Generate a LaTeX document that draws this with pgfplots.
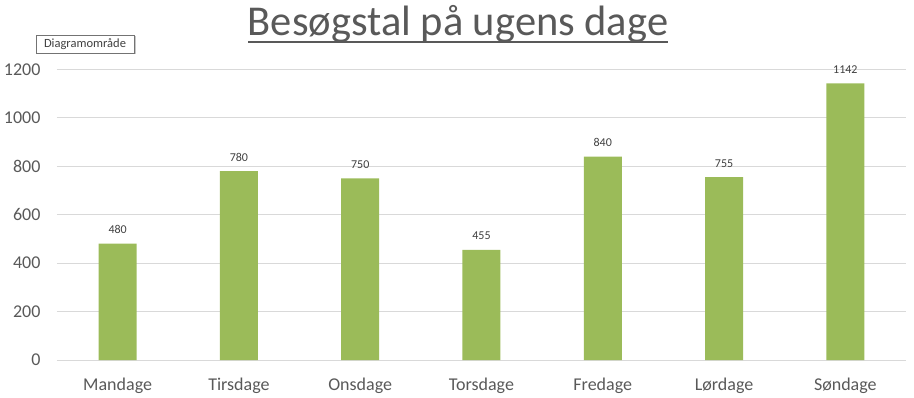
\documentclass[border=0pt]{standalone}
\usepackage{pgfplots}
\pgfplotsset{compat=1.18}
\usepackage{fontspec}
\setmainfont{Carlito}
\definecolor{bargreen}{HTML}{9BBB59}
\definecolor{txtgray}{HTML}{595959}
\definecolor{gridgray}{HTML}{D9D9D9}
\definecolor{lblgray}{HTML}{404040}
\begin{document}
\begin{tikzpicture}
\useasboundingbox (-57pt,-37pt) rectangle (857pt,360pt);
\begin{axis}[
  scale only axis,
  width=849pt, height=290.7pt,
  ybar, bar width=38pt,
  xmin=-0.5, xmax=6.5,
  ymin=0, ymax=1200,
  ytick={0,200,...,1200},
  xtick=data,
  xticklabels={Mandage,Tirsdage,Onsdage,Torsdage,Fredage,Lørdage,Søndage},
  /pgf/number format/assume math mode=true,
  /pgf/number format/1000 sep={},
  major tick length=0pt,
  ymajorgrids,
  grid style={gridgray, line width=0.8pt},
  axis x line*=bottom,
  axis y line*=left,
  y axis line style={draw=none},
  x axis line style={draw=gridgray, line width=0.8pt},
  ticklabel style={text=txtgray},
  yticklabel style={font=\fontsize{18}{20}\selectfont, anchor=east, xshift=-13pt},
  xticklabel style={font=\fontsize{18}{20}\selectfont, anchor=base, yshift=-30pt},
  nodes near coords,
  every node near coord/.append style={font=\fontsize{12}{14}\selectfont, text=lblgray, anchor=base, yshift=10pt},
  clip=false,
]
\addplot[fill=bargreen, draw=none] coordinates {(0,480) (1,780) (2,750) (3,455) (4,840) (5,755) (6,1142)};
\end{axis}
\node[anchor=base, text=txtgray, font=\fontsize{42.5}{46}\selectfont, inner sep=0pt] at (401pt,324pt) {Besøgstal på ugens dage};
\draw[txtgray, line width=2pt] (191pt,317.5pt) -- (611pt,317.5pt);
\fill[black!22] (-19.5pt,305.5pt) rectangle (78.5pt,323.5pt);
\draw[black!55, fill=white, line width=0.6pt] (-21pt,307pt) rectangle (77pt,325pt);
\node[text=lblgray, font=\fontsize{12.5}{14}\selectfont] at (28pt,316pt) {Diagramområde};
\end{tikzpicture}
\end{document}
